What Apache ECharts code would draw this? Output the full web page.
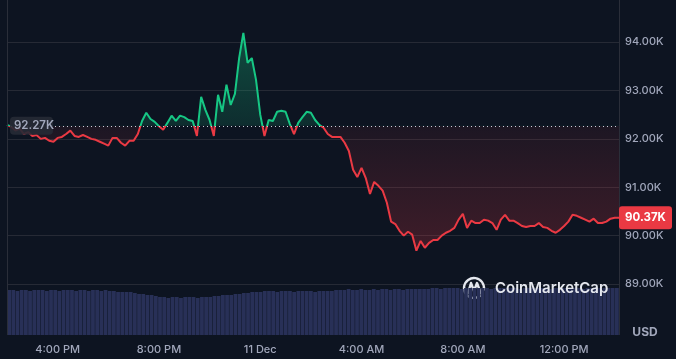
<!DOCTYPE html>
<html><head><meta charset="utf-8">
<script src="https://cdn.jsdelivr.net/npm/echarts@6/dist/echarts.min.js"></script>
<style>html,body{margin:0;padding:0;background:#0d1421;overflow:hidden}#c{width:676px;height:359px}</style>
</head><body><div id="c"></div>
<script>
// ---- data ----
const startHour = 14;        // first point 14:00, 10 Dec
const stepMin = 10;          // minutes between points
const dayLabel = '11 Dec';
const openPrice = 92270;     // reference (24h open) price
const yTicks = [89000, 90000, 91000, 92000, 93000, 94000];
const price = [
92290,92250,92170,92210,92100,92140,92060,92080,92000,92020,
91960,91940,92020,92040,92100,92170,92060,92040,92080,92040,
92000,91980,91940,91900,91860,92020,92020,91920,91860,91960,
91960,92100,92370,92540,92410,92350,92260,92190,92330,92480,
92370,92480,92450,92390,92370,92060,92870,92600,92390,92060,
92910,92560,93120,92700,92930,93670,94190,93570,93670,93220,
92500,92060,92390,92370,92560,92580,92560,92310,92100,92330,
92450,92560,92540,92390,92290,92230,92100,92040,92040,92040,
91920,91750,91360,91210,91400,91190,90860,91110,91030,90930,
90680,90290,90240,90100,90000,90080,90020,89690,89890,89750,
89850,89910,89910,90000,90060,90100,90160,90330,90450,90160,
90310,90260,90260,90330,90310,90260,90120,90330,90430,90310,
90310,90260,90200,90180,90200,90200,90260,90180,90160,90100,
90060,90120,90200,90290,90430,90410,90370,90330,90290,90350,
90260,90260,90290,90350,90370,90370
];
const volume = [
45,45,44,45,45,44,45,45,45,44,45,45,44,45,45,45,44,45,45,44,45,45,44,45,
44,44,43,43,43,43,42,
41,41,40,40,39,
38,38,37,38,38,37,38,38,38,37,38,38,38,
39,39,40,40,40,41,41,
42,42,43,43,43,44,
44,44,43,44,44,44,43,44,44,44,44,43,44,44,44,44,
45,45,45,46,45,45,46,45,45,46,45,46,46,45,46,46,45,46,46,46,46,46,46,
47,47,46,47,47,47,47,46,47,47,47,47,47,47,46,47,47,47,47,47,47,46,47,47,47,
47,47,47,46,47,47,47,47,47,47,47,46,47,47,47,47,47,47,47,47
];
// ---- end data ----

const categories = price.map((_, i) => {
  const m = startHour * 60 + i * stepMin;
  const h = Math.floor(m / 60) % 24, mm = m % 60;
  return (h < 10 ? '0' : '') + h + ':' + (mm < 10 ? '0' : '') + mm;
});
function timeLabel(c) {
  const p = c.split(':').map(Number), h = p[0], m = p[1];
  if (m !== 0 || h % 4 !== 0) return '';
  if (h === 0) return dayLabel;
  const h12 = h % 12 === 0 ? 12 : h % 12;
  return h12 + ':00 ' + (h < 12 ? 'AM' : 'PM');
}
const fmtK = v => (v / 1000).toFixed(2) + 'K';

const GREEN = '#16c784', RED = '#ea3943';
const labelColor = '#a1a7bb';
const FONT = 'Inter, "Noto Sans", sans-serif';

const chart = echarts.init(document.getElementById('c'), null, {renderer: 'canvas'});

const areaGrad = new echarts.graphic.LinearGradient(0, 30, 0, 260, [
  {offset: 0, color: 'rgba(22,199,132,0.32)'},
  {offset: 0.417, color: 'rgba(22,199,132,0.14)'},
  {offset: 0.418, color: 'rgba(234,57,67,0.07)'},
  {offset: 1, color: 'rgba(234,57,67,0.24)'}
], true);

chart.setOption({
  backgroundColor: '#0d1421',
  animation: false,
  grid: [
    {left: 7, right: 57, top: 0, bottom: 26.6},
    {left: 7, right: 57, top: 285, bottom: 24}
  ],
  xAxis: [
    {type: 'category', gridIndex: 0, data: categories, boundaryGap: false,
     axisLine: {show: false}, axisTick: {show: false}, splitLine: {show: false},
     axisLabel: {interval: (i, v) => timeLabel(v) !== '', formatter: v => timeLabel(v),
       color: labelColor, fontSize: 11, fontFamily: FONT, fontWeight: 500, margin: 12}},
    {type: 'category', gridIndex: 1, data: categories, boundaryGap: true,
     axisLine: {show: false}, axisTick: {show: false}, axisLabel: {show: false}, splitLine: {show: false}}
  ],
  yAxis: [
    {type: 'value', gridIndex: 0, position: 'right', min: 88000, max: 94870, interval: 1000,
     axisLine: {show: false}, axisTick: {show: false},
     splitLine: {show: true, showMinLine: false, showMaxLine: false, lineStyle: {color: '#262a35', width: 1}},
     axisLabel: {formatter: v => yTicks.includes(v) ? fmtK(v) : '', color: labelColor,
       fontSize: 11, fontFamily: FONT, fontWeight: 500, margin: 6, showMaxLabel: false, showMinLabel: false}},
    {type: 'value', gridIndex: 1, min: 0, max: 50, show: false}
  ],
  visualMap: {show: false, type: 'piecewise', seriesIndex: 1, dimension: 1,
    pieces: [{gt: openPrice, lte: 200000, color: GREEN}, {gte: 0, lte: openPrice, color: RED}]},
  series: [
    {type: 'bar', xAxisIndex: 1, yAxisIndex: 1, data: volume, barCategoryGap: '10%',
     itemStyle: {color: '#283057'}, silent: true, z: 1},
    {type: 'line', xAxisIndex: 0, yAxisIndex: 0, data: price, showSymbol: false, symbol: 'none',
     lineStyle: {width: 2}, z: 3,
     areaStyle: {origin: openPrice, color: areaGrad, opacity: 1},
     markLine: {silent: true, symbol: 'none', animation: false,
       data: [{yAxis: openPrice}], label: {show: false},
       lineStyle: {type: [1, 3], color: '#c9ced8', width: 1}}}
  ]
});

const yOpen = chart.convertToPixel({yAxisIndex: 0}, openPrice);
const last = price[price.length - 1];
const yLast = chart.convertToPixel({yAxisIndex: 0}, last);

chart.setOption({
  graphic: [
    {type: 'line', shape: {x1: 7.5, y1: 0, x2: 7.5, y2: 335}, style: {stroke: '#2a2e39', lineWidth: 1}, z: 5},
    {type: 'line', shape: {x1: 619.5, y1: 0, x2: 619.5, y2: 335}, style: {stroke: '#2a2e39', lineWidth: 1}, z: 5},
    {type: 'rect', shape: {x: 10, y: yOpen - 9, width: 43, height: 18, r: 4},
     style: {fill: 'rgba(38,42,53,0.9)'}, z: 10},
    {type: 'text', x: 14, y: yOpen, style: {text: fmtK(openPrice), fill: labelColor,
      font: '600 11.5px ' + FONT, verticalAlign: 'middle'}, z: 11},
    {type: 'rect', shape: {x: 619, y: yLast - 11.5, width: 53, height: 23, r: 3},
     style: {fill: RED}, z: 10},
    {type: 'text', x: 625, y: yLast, style: {text: fmtK(last), fill: '#ffffff',
      font: '700 11.5px ' + FONT, verticalAlign: 'middle'}, z: 11},
    {type: 'text', x: 645, y: 332, style: {text: 'USD', fill: labelColor,
      font: '700 12px ' + FONT, align: 'center', verticalAlign: 'middle'}, z: 11},
    {type: 'group', x: 474, y: 288, z: 12, children: [
      {type: 'arc', shape: {cx: 0, cy: 0, r: 10, startAngle: Math.PI * 0.3, endAngle: Math.PI * 2.05},
       style: {stroke: '#e4e7ee', lineWidth: 2.4, fill: null, lineCap: 'round'}},
      {type: 'polyline', shape: {points: [[-6, 5], [-3, -5], [0, 3], [3, -5], [6, 3], [8, 7]]},
       style: {stroke: '#e4e7ee', lineWidth: 2.4, fill: null, lineJoin: 'round', lineCap: 'round'}}
    ]},
    {type: 'text', x: 495, y: 288, z: 12, style: {text: 'CoinMarketCap', fill: '#e4e7ee',
      font: '600 15px ' + FONT, verticalAlign: 'middle'}}
  ]
});
</script>
</body></html>
